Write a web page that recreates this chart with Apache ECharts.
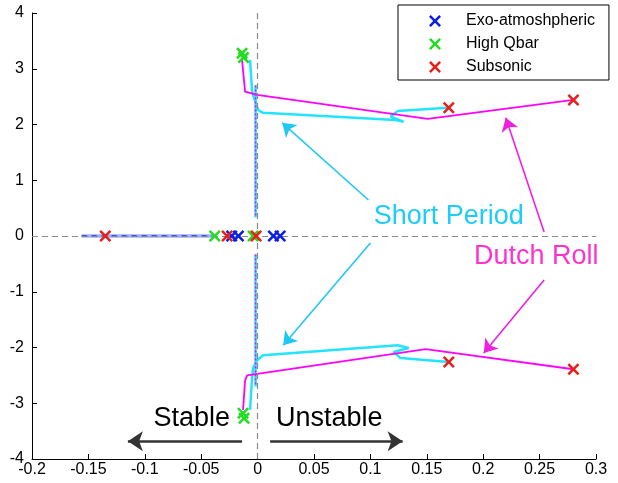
<!DOCTYPE html>
<html><head><meta charset="utf-8">
<script src="https://cdn.jsdelivr.net/npm/echarts@6/dist/echarts.min.js"></script>
<style>html,body{margin:0;padding:0;background:#fff}#c{width:618px;height:483px}</style>
</head><body><div id="c"></div>
<script>
// ---- tick values ----
const xTicks = [-0.2, -0.15, -0.1, -0.05, 0, 0.05, 0.1, 0.15, 0.2, 0.25, 0.3];
const yTicks = [-4, -3, -2, -1, 0, 1, 2, 3, 4];

// ---- pole locations (real, imag) ----
const exoPoles = [[-0.023, 0], [-0.017, 0], [0.014, 0], [0.020, 0]];
const highQbarPoles = [[-0.038, 0], [-0.004, 0], [-0.0138, 3.28], [-0.0125, 3.20], [-0.0129, -3.18], [-0.012, -3.27]];
const subsonicPoles = [[-0.135, 0], [-0.027, 0], [-0.0013, 0], [0.1695, 2.30], [0.28, 2.44], [0.1695, -2.26], [0.28, -2.39]];

// ---- loci ----
const dutchRollUpper = [[0.28, 2.44], [0.1508, 2.10], [-0.0004, 2.53], [-0.0111, 2.59], [-0.0138, 3.16]];
const dutchRollLower = [[0.28, -2.39], [0.149, -2.03], [-0.0093, -2.50], [-0.0111, -2.59], [-0.0129, -3.12]];
const shortPeriodUpper = [[0.1686, 2.30], [0.1241, 2.24], [0.1179, 2.14], [0.1294, 2.05], [0.1223, 2.08], [0.0049, 2.21], [0.0004, 2.26], [-0.0049, 2.59], [-0.0067, 3.16]];
const shortPeriodLower = [[0.1695, -2.26], [0.1268, -2.19], [0.1206, -2.08], [0.1339, -2.01], [0.1241, -1.96], [0.0049, -2.14], [-0.0004, -2.23], [-0.004, -2.37], [-0.0049, -2.55], [-0.0067, -3.12]];
const centerLocusUpper = [[-0.0018, 2.7], [-0.0018, 0.33]];
const centerLocusLower = [[-0.0018, -0.33], [-0.0018, -2.7]];
const realAxisLocus = [[-0.156, 0], [-0.04, 0]];

// ---- annotations (data coordinates) ----
const spArrows = [[[0.0983, 0.646], [0.0218, 2.03]], [[0.100, -0.126], [0.0227, -1.96]]];
const drArrows = [[[0.254, 0.072], [0.220, 2.12]], [[0.254, -0.79], [0.2005, -2.10]]];
const stabArrows = [[[-0.0138, -3.68], [-0.115, -3.68]], [[0.0111, -3.68], [0.1286, -3.68]]];
const labels = [
  {name: 'Short Period', value: [0.1695, 0.34], color: '#1ccdfb'},
  {name: 'Dutch Roll', value: [0.247, -0.36], color: '#ff33cc'},
  {name: 'Stable', value: [-0.0583, -3.27], color: '#000'},
  {name: 'Unstable', value: [0.0636, -3.27], color: '#000'}
];

const XSYM = 'path://M0,1.5L1.5,0L5,3.5L8.5,0L10,1.5L6.5,5L10,8.5L8.5,10L5,6.5L1.5,10L0,8.5L3.5,5Z';
const FONT = 'Liberation Sans, Arial, sans-serif';
const CYAN = '#22e4ff', MAG = '#ff00ff';

function lineSeries(data, color, width, type, z) {
  return {type: 'line', data: data, symbol: 'none', showSymbol: false, silent: true, z: z || 2,
    lineStyle: {color: color, width: width, type: type || 'solid', opacity: 1}};
}
function poleSeries(name, data, color) {
  return {type: 'scatter', name: name, data: data, symbol: XSYM, symbolSize: 12, z: 5,
    itemStyle: {color: color, opacity: 1}, silent: true};
}
function arrowSeries(list, color, width, size) {
  return {type: 'lines', coordinateSystem: 'cartesian2d', polyline: false, silent: true, z: 6,
    symbol: ['none', 'arrow'], symbolSize: size,
    lineStyle: {color: color, width: width, opacity: 1, curveness: 0},
    data: list.map(c => ({coords: c}))};
}

const chart = echarts.init(document.getElementById('c'), null, {renderer: 'canvas'});
const fmt = v => String(parseFloat(v.toFixed(2)));

const base = lineSeries(realAxisLocus, '#9fb0ff', 3.5, 'solid', 2);
base.markLine = {silent: true, symbol: ['none', 'none'], label: {show: false}, animation: false,
  lineStyle: {color: '#8a8a8a', width: 1.2, type: [6, 4]},
  data: [{xAxis: 0}, {yAxis: 0}]};

chart.setOption({
  animation: false,
  backgroundColor: '#fff',
  grid: {left: 32, right: 22, top: 13, bottom: 24, containLabel: false},
  xAxis: {type: 'value', min: xTicks[0], max: xTicks[xTicks.length - 1], interval: 0.05,
    axisLine: {show: true, onZero: false, lineStyle: {color: '#000', width: 1}},
    axisTick: {show: true, inside: true, length: 5, lineStyle: {color: '#000'}},
    axisLabel: {formatter: fmt, fontSize: 16, color: '#000', fontFamily: FONT, margin: 3, showMinLabel: true, showMaxLabel: true},
    splitLine: {show: false}},
  yAxis: {type: 'value', min: yTicks[0], max: yTicks[yTicks.length - 1], interval: 1,
    axisLine: {show: true, onZero: false, lineStyle: {color: '#000', width: 1}},
    axisTick: {show: true, inside: true, length: 5, lineStyle: {color: '#000'}},
    axisLabel: {fontSize: 16, color: '#000', fontFamily: FONT, margin: 8, showMinLabel: true, showMaxLabel: true},
    splitLine: {show: false}},
  legend: {data: ['Exo-atmoshpheric', 'High Qbar', 'Subsonic'], orient: 'vertical', left: 398, top: 5,
    backgroundColor: '#fff', borderColor: '#000', borderWidth: 1, borderRadius: 0,
    padding: [8, 14, 5, 31], itemWidth: 12, itemHeight: 12, itemGap: 7, icon: XSYM,
    itemStyle: {opacity: 1},
    textStyle: {fontSize: 16, color: '#000', fontFamily: FONT, padding: [0, 0, 0, 20]}},
  series: [
    base,
    lineSeries(realAxisLocus, '#1a2cff', 1.5, [5, 5], 3),
    lineSeries(centerLocusUpper, CYAN, 2.5, 'solid', 2),
    lineSeries(centerLocusLower, CYAN, 2.5, 'solid', 2),
    lineSeries(centerLocusUpper, MAG, 1.5, [2, 2], 3),
    lineSeries(centerLocusLower, MAG, 1.5, [2, 2], 3),
    lineSeries(shortPeriodUpper, CYAN, 2.5, 'solid', 2),
    lineSeries(shortPeriodLower, CYAN, 2.5, 'solid', 2),
    lineSeries(dutchRollUpper, MAG, 1.8, 'solid', 3),
    lineSeries(dutchRollLower, MAG, 1.8, 'solid', 3),
    poleSeries('Exo-atmoshpheric', exoPoles, '#0a1ee6'),
    poleSeries('High Qbar', highQbarPoles, '#22dd22'),
    poleSeries('Subsonic', subsonicPoles, '#e8201a'),
    arrowSeries(spArrows, '#1ec8f5', 1.6, 13),
    arrowSeries(drArrows, '#f020e0', 1.6, 13),
    arrowSeries(stabArrows, '#333', 2.5, 15),
    {type: 'scatter', data: labels.map(l => ({name: l.name, value: l.value,
        label: {color: l.color}})), symbolSize: 1, silent: true, z: 7,
      itemStyle: {color: 'rgba(0,0,0,0)', opacity: 1},
      label: {show: true, position: 'inside', formatter: p => p.name, fontSize: 27, fontFamily: FONT}}
  ]
});
</script></body></html>
